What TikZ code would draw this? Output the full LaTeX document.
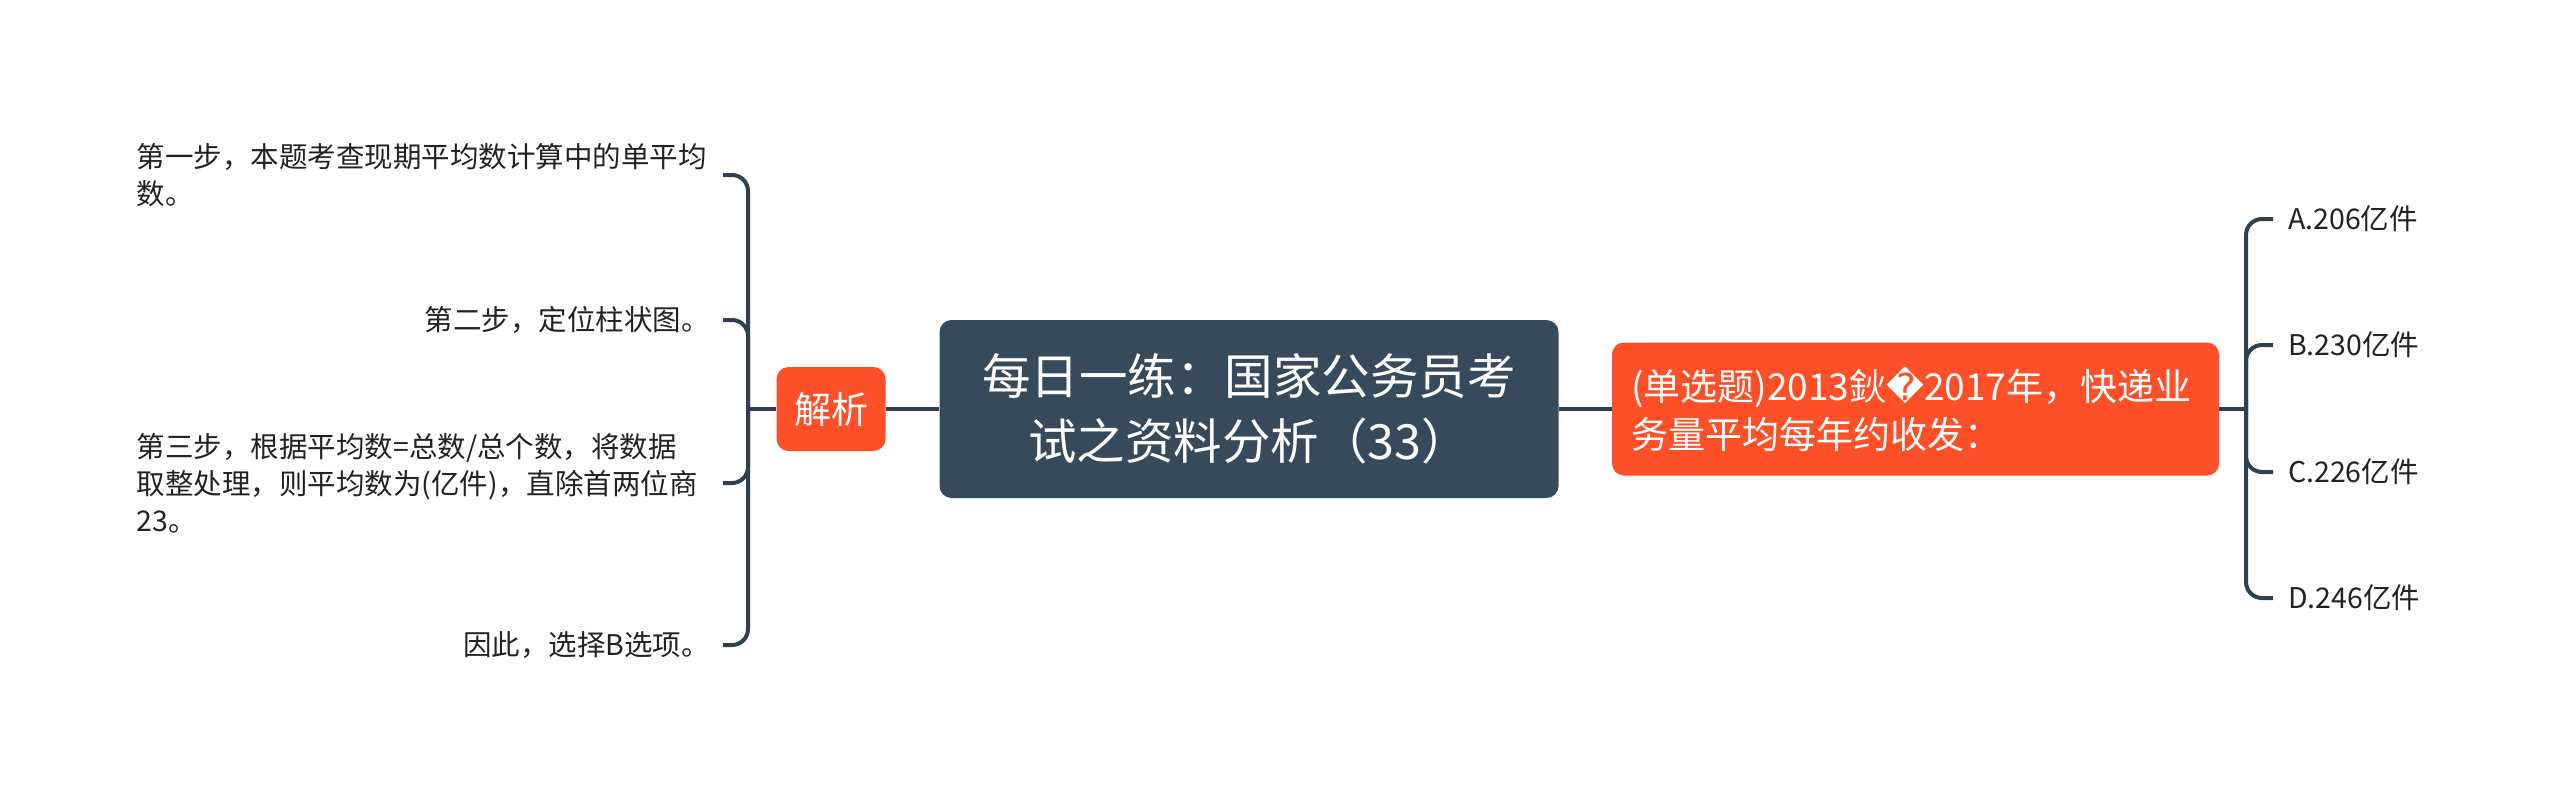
\documentclass[tikz,border=0pt]{standalone}
\usepackage{fontspec}
\setmainfont{Noto Sans CJK SC}
\newfontfamily\djv{DejaVu Sans}
\definecolor{darkbox}{HTML}{364A5C}
\definecolor{orangebg}{HTML}{FD4F28}
\definecolor{linec}{HTML}{2F4050}
\definecolor{textc}{HTML}{222222}
\begin{document}
\begin{tikzpicture}[x=1pt,y=-1pt,
  rootbox/.style={fill=darkbox, rounded corners=12pt, minimum width=619pt, minimum height=178pt,
    text=white, align=center, inner sep=0pt, font=\fontsize{48.5}{65}\selectfont},
  orangebox/.style={fill=orangebg, rounded corners=12pt, text=white, inner sep=0pt,
    font=\fontsize{37}{48}\selectfont},
  leaf/.style={inner xsep=13pt, inner ysep=0pt, text=textc, font=\fontsize{28.5}{37}\selectfont},
  conn/.style={draw=linec, line width=4pt, rounded corners=16pt}]
\useasboundingbox[fill=white] (0,0) rectangle (2560,800);

\node[rootbox] (root) at (1249,409) {每日一练：国家公务员考\\试之资料分析（33）};
\node[orangebox, minimum width=109pt, minimum height=84pt] (jx) at (831,409) {解析};
\node[orangebox, minimum width=607pt, minimum height=133pt, inner xsep=19pt, text width=569pt, align=left] (q) at (1915.5,409)
  {(单选题)2013鈥{\djv �}2017年，快递业\\务量平均每年约收发：};

\node[leaf, anchor=east, text width=573pt, align=left] (l1) at (723,175) {第一步，本题考查现期平均数计算中的单平均\\数。};
\node[leaf, anchor=east] (l2) at (723,320) {第二步，定位柱状图。};
\node[leaf, anchor=east, text width=573pt, align=left] (l3) at (723,483) {第三步，根据平均数=总数/总个数，将数据\\取整处理，则平均数为(亿件)，直除首两位商\\23。};
\node[leaf, anchor=east] (l4) at (723,645) {因此，选择B选项。};

\node[leaf, anchor=west, inner xsep=15pt] (r1) at (2273,219) {A.206亿件};
\node[leaf, anchor=west, inner xsep=15pt] (r2) at (2273,345) {B.230亿件};
\node[leaf, anchor=west, inner xsep=15pt] (r3) at (2273,472) {C.226亿件};
\node[leaf, anchor=west, inner xsep=15pt] (r4) at (2273,598) {D.246亿件};

\coordinate (lb) at (748,409);
\coordinate (rb) at (2246,409);
\draw[conn] (root.west) -- (jx.east);
\draw[conn] (jx.west) -- (lb);
\foreach \n in {l1,l2,l3,l4} \draw[conn] (lb) |- (\n.east);
\draw[conn] (root.east) -- (q.west);
\draw[conn] (q.east) -- (rb);
\foreach \n in {r1,r2,r3,r4} \draw[conn] (rb) |- (\n.west);
\end{tikzpicture}
\end{document}
